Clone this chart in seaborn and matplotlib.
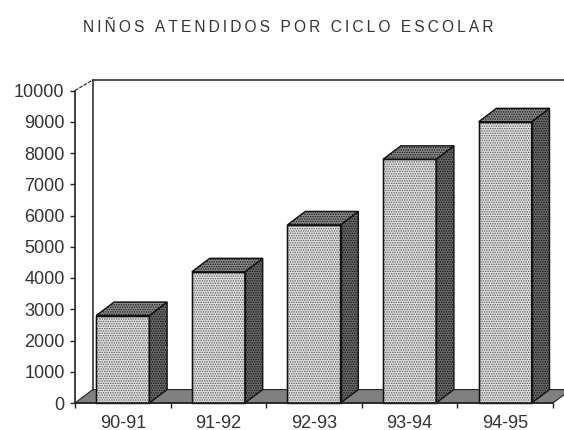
import numpy as np
import seaborn as sns
import matplotlib.pyplot as plt
from matplotlib.patches import Polygon

# Data
ciclos = ['90-91', '91-92', '92-93', '93-94', '94-95']
ninos = [2800, 4200, 5700, 7800, 9000]
y_ticks = [0, 1000, 2000, 3000, 4000, 5000, 6000, 7000, 8000, 9000, 10000]
titulo = 'NIÑOS ATENDIDOS POR CICLO ESCOLAR'

sns.set_theme(style='white')
plt.rcParams['font.family'] = ['Liberation Sans', 'DejaVu Sans']
plt.rcParams['hatch.linewidth'] = 0.7

fig = plt.figure(figsize=(5.64, 4.30), dpi=100)
ax = fig.add_axes([75 / 564, 27 / 430, 478 / 564, 312.5 / 430])

# front faces of the bars
sns.barplot(x=ciclos, y=ninos, color='#e2e2e2', saturation=1, width=0.555,
            edgecolor='#111111', linewidth=1, hatch='.......', ax=ax, zorder=3)
for bar in ax.patches:
    bar.set_edgecolor('#555555')

ax.set_xlim(-0.5, 4.5)
ax.set_ylim(0, 10000)

# 3d depth, in data units
dx = 0.186
dy = 430

# floor and back wall
ax.add_patch(Polygon([(-0.5, 0), (-0.5 + dx, dy), (4.5 + dx, dy), (4.5, 0)], closed=True,
                     facecolor='#808080', edgecolor='#222222', linewidth=0.8, clip_on=False, zorder=1))
ax.plot([-0.5 + dx, -0.5 + dx], [dy, 10340], color='#333333', lw=1.2, clip_on=False, zorder=2)
ax.plot([-0.5 + dx, 5], [10340, 10340], color='#333333', lw=1.2, clip_on=False, zorder=2)
ax.plot([-0.5, -0.5 + dx], [10000, 10340], color='#333333', lw=0.9, ls=(0, (3, 1)), clip_on=False, zorder=2)

# sides and tops, built from the bars seaborn drew
for bar in list(ax.patches):
    if not hasattr(bar, 'get_height'):
        continue
    x0 = bar.get_x()
    x1 = x0 + bar.get_width()
    h = bar.get_height()
    ax.add_patch(Polygon([(x1, 0), (x1 + dx, dy), (x1 + dx, h + dy), (x1, h)], closed=True,
                         facecolor='#6a6a6a', edgecolor='#111111', linewidth=1,
                         hatch='.......', clip_on=False, zorder=3))
    ax.add_patch(Polygon([(x0, h), (x0 + dx, h + dy), (x1 + dx, h + dy), (x1, h)], closed=True,
                         facecolor='#8c8c8c', edgecolor='#111111', linewidth=1,
                         hatch='.......', clip_on=False, zorder=3))
    # outline of the front face over the hatch
    ax.plot([x0, x0, x1, x1, x0], [0, h, h, 0, 0], color='#111111', lw=1, zorder=4, clip_on=False)

sns.despine(ax=ax)
for s in ['left', 'bottom']:
    ax.spines[s].set_color('#222222')
    ax.spines[s].set_linewidth(1.2)
    ax.spines[s].set_zorder(5)

ax.set_yticks(y_ticks)
ax.set_yticklabels([str(v) for v in y_ticks], fontsize=13, color='#333333')
ax.set_xticks(range(len(ciclos)))
ax.set_xticklabels(ciclos, fontsize=13, color='#333333')
ax.set_xticks(np.arange(-0.5, 5), minor=True)
ax.tick_params(axis='y', which='major', left=True, length=3.5, width=1, color='#222222', pad=4)
ax.tick_params(axis='x', which='major', bottom=False, pad=2.5)
ax.tick_params(axis='x', which='minor', bottom=True, length=3.5, width=1, color='#222222')

# title has wide letter spacing in the original
fig.text(288.5 / 564, 1 - 27 / 430, '\u2009'.join(titulo), fontsize=11.2, color='#333333',
         ha='center', va='center')

fig.savefig('out.png', dpi=100)
